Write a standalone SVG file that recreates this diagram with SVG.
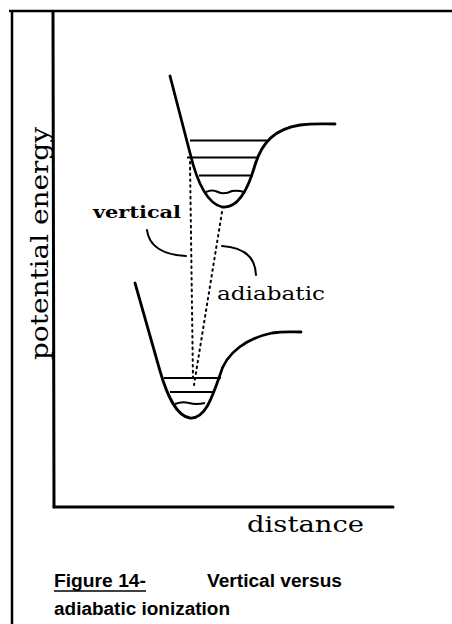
<svg xmlns="http://www.w3.org/2000/svg" width="452" height="624" viewBox="0 0 452 624">
<style>
.frame{stroke:#000;stroke-width:2.5;fill:none}
.axis{stroke:#000;stroke-width:3;fill:none;stroke-linecap:round}
.curve{stroke:#000;stroke-width:2.8;fill:none;stroke-linecap:round;stroke-linejoin:round}
.level{stroke:#000;stroke-width:2;fill:none}
.dot{stroke:#000;stroke-width:2;fill:none;stroke-dasharray:1.6 4.2;stroke-linecap:round}
.lead{stroke:#000;stroke-width:2;fill:none;stroke-linecap:round}
.slab{font-family:"DejaVu Serif","Liberation Serif",serif;fill:#000}
.cap{font-family:"Liberation Sans",Arial,sans-serif;font-weight:bold;fill:#000;font-size:18px}
</style>
<rect width="452" height="624" fill="#fff"/>
<g id="frame">
<line class="frame" x1="9" y1="11" x2="452" y2="11"/>
<line class="frame" x1="12" y1="11" x2="12" y2="624"/>
</g>
<g id="axes">
<line class="axis" x1="53" y1="12" x2="54" y2="507"/>
<line class="axis" x1="54" y1="507" x2="393" y2="507"/>
<text class="slab" x="247" y="532" font-size="22" textLength="117" lengthAdjust="spacingAndGlyphs">distance</text>
<text class="slab" transform="translate(48,360) rotate(-90)" font-size="24" textLength="233" lengthAdjust="spacingAndGlyphs">potential energy</text>
</g>
<g id="upper-well">
<path class="curve" d="M170,76 L190,153 C196,178 206,203 222,207 C238,209 248,190 255,165 C262,142 275,129 300,125 C315,123 325,124 335,124"/>
<line class="level" x1="190" y1="140.5" x2="267" y2="140.5"/>
<line class="level" x1="187" y1="157.5" x2="259" y2="157.5"/>
<line class="level" x1="199" y1="175.5" x2="253" y2="175.5"/>
<path class="level" d="M206,192 Q212,189 218,192 T232,191 Q238,190 244,192"/>
</g>
<g id="lower-well">
<path class="curve" d="M135,283 L160,371 C167,395 176,416 190,418 C205,419 212,398 220,375 C226,352 248,338 272,333 C285,331 293,332 301,332"/>
<line class="level" x1="164" y1="378" x2="221" y2="378"/>
<line class="level" x1="170" y1="392" x2="213" y2="392"/>
<path class="level" d="M175,404 Q182,401 189,403 T205,403"/>
</g>
<g id="connectors">
<line class="dot" x1="190" y1="162" x2="193" y2="380"/>
<line class="dot" x1="222" y1="212" x2="194" y2="385"/>
<path class="lead" d="M147,230 Q150,254 186,256"/>
<path class="lead" d="M222,246 Q255,248 256,275"/>
</g>
<g id="labels">
<text class="slab" x="93" y="218" font-size="17" font-weight="bold" textLength="88" lengthAdjust="spacingAndGlyphs">vertical</text>
<text class="slab" x="217" y="300" font-size="18" textLength="108" lengthAdjust="spacingAndGlyphs">adiabatic</text>
</g>
<g id="caption">
<text class="cap" x="54" y="587" textLength="92" lengthAdjust="spacingAndGlyphs">Figure 14-</text>
<line x1="54" y1="591" x2="146" y2="591" stroke="#000" stroke-width="1.5"/>
<text class="cap" x="207" y="587" textLength="135" lengthAdjust="spacingAndGlyphs">Vertical versus</text>
<text class="cap" x="54" y="615" textLength="176" lengthAdjust="spacingAndGlyphs">adiabatic ionization</text>
</g>
</svg>
